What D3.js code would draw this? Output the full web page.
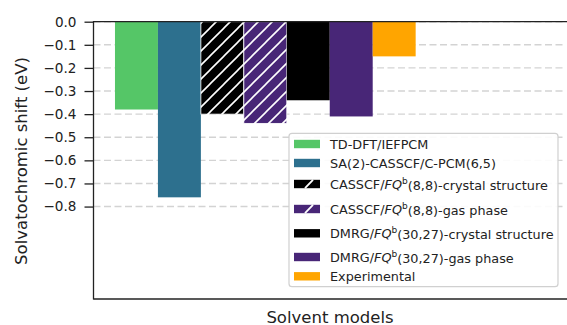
<!DOCTYPE html>
<html>
    <head>
        <meta http-equiv="Content-Type" content="text/html;charset=utf-8">
        <script src="https://d3js.org/d3.v7.min.js"></script>
        <title>Solvatochromic shift</title>
        <style>
            body { margin:0; background:#fff; }
            svg { display:block; font-family:"DejaVu Sans", sans-serif; }
        </style>
    </head>
    <body>
        <svg width="567" height="325"></svg>
    </body>
    <script>
        // data
        var methods = [
            {pre:"TD-DFT/IEFPCM", fq:false, post:""},
            {pre:"SA(2)-CASSCF/C-PCM(6,5)", fq:false, post:""},
            {pre:"CASSCF/", fq:true, post:"(8,8)-crystal structure"},
            {pre:"CASSCF/", fq:true, post:"(8,8)-gas phase"},
            {pre:"DMRG/", fq:true, post:"(30,27)-crystal structure"},
            {pre:"DMRG/", fq:true, post:"(30,27)-gas phase"},
            {pre:"Experimental", fq:false, post:""}
        ];
        var shifts = [-0.38, -0.76, -0.40, -0.44, -0.34, -0.41, -0.15];
        var colors = ["#55c667", "#2d708e", "#000000", "#482677", "#000000", "#482677", "#ffa500"];
        var hatched = [false, false, true, true, false, false, false];
        var yTicks = [0.0, -0.1, -0.2, -0.3, -0.4, -0.5, -0.6, -0.7, -0.8];

        var svg = d3.select("svg");
        var pLeft = 93.5, pRight = 566, pTop = 21.7, pBottom = 299;

        var x = d3.scaleLinear().domain([-1, 10]).range([pLeft, pRight]);
        var y = d3.scaleLinear().domain([-1.2, 0]).range([pBottom, pTop]);

        // hatch patterns
        var defs = svg.append("defs");
        function hatch(id, bg){
            var p = defs.append("pattern")
                .attr("id", id)
                .attr("patternUnits", "userSpaceOnUse")
                .attr("width", 14).attr("height", 14);
            p.append("rect").attr("width", 14).attr("height", 14).attr("fill", bg);
            p.append("path")
                .attr("d", "M0,14L14,0M-4,4L4,-4M10,18L18,10")
                .attr("stroke", "#fff").attr("stroke-width", 1.6);
        }
        colors.forEach(function(c, i){ if (hatched[i]) hatch("hatch" + i, c); });

        function fill(i){ return hatched[i] ? "url(#hatch" + i + ")" : colors[i]; }

        // grid
        svg.append("g").selectAll("line")
            .data(yTicks)
            .enter().append("line")
                .attr("x1", pLeft).attr("x2", pRight)
                .attr("y1", function(d){ return y(d); })
                .attr("y2", function(d){ return y(d); })
                .attr("stroke", "#d3d3d3")
                .attr("stroke-width", 1.4)
                .attr("stroke-dasharray", "7,3.5");

        // bars
        svg.append("g").selectAll("rect")
            .data(shifts)
            .enter().append("rect")
                .attr("x", function(d, i){ return x(i - 0.5); })
                .attr("width", function(d, i){ return x(i + 0.5) - x(i - 0.5); })
                .attr("y", y(0))
                .attr("height", function(d){ return y(d) - y(0); })
                .attr("fill", function(d, i){ return fill(i); })
                .attr("stroke", function(d, i){ return hatched[i] ? "#fff" : "none"; })
                .attr("stroke-width", 0.8);

        // spines
        svg.append("line").attr("x1", pLeft).attr("x2", 567).attr("y1", pTop).attr("y2", pTop)
            .attr("stroke", "#222").attr("stroke-width", 1.3);
        svg.append("line").attr("x1", pLeft).attr("x2", 567).attr("y1", pBottom).attr("y2", pBottom)
            .attr("stroke", "#222").attr("stroke-width", 1.3);

        // y axis
        var yAxis = d3.axisLeft(y)
            .tickValues(yTicks)
            .tickSize(9)
            .tickPadding(8)
            .tickFormat(function(d){ return d3.format(".1f")(d).replace("-", "\u2212"); });
        var ga = svg.append("g")
            .attr("transform", "translate(" + pLeft + ",0)")
            .call(yAxis);
        ga.select(".domain").attr("stroke", "#222").attr("stroke-width", 1.3)
            .attr("d", "M0," + (pTop - 0.6) + "V" + (pBottom + 0.6));
        ga.selectAll(".tick line").attr("stroke", "#222").attr("stroke-width", 1.3);
        ga.selectAll(".tick text")
            .attr("font-family", "DejaVu Sans")
            .attr("font-size", 13.6)
            .attr("fill", "#222");

        // axis labels
        svg.append("text")
            .attr("transform", "translate(21.7,161) rotate(-90)")
            .attr("text-anchor", "middle")
            .attr("dominant-baseline", "central")
            .attr("font-size", 16.5)
            .attr("fill", "#222")
            .text("Solvatochromic shift (eV)");
        svg.append("text")
            .attr("x", 330).attr("y", 317)
            .attr("text-anchor", "middle")
            .attr("dominant-baseline", "central")
            .attr("font-size", 16.5)
            .attr("fill", "#222")
            .text("Solvent models");

        // legend
        var rowY = [144, 163, 184, 209, 233.3, 257, 276.3];
        var lg = svg.append("g");
        lg.append("rect")
            .attr("x", 289).attr("y", 133.3)
            .attr("width", 269).attr("height", 153.4)
            .attr("rx", 3)
            .attr("fill", "#fff").attr("fill-opacity", 0.9)
            .attr("stroke", "#d0d0d0").attr("stroke-width", 1.2);

        var rows = lg.selectAll("g.row")
            .data(methods)
            .enter().append("g")
                .attr("class", "row")
                .attr("transform", function(d, i){ return "translate(0," + rowY[i] + ")"; });

        rows.append("rect")
            .attr("x", 294).attr("y", -4.2)
            .attr("width", 26).attr("height", 8.4)
            .attr("fill", function(d, i){ return colors[i]; });
        rows.filter(function(d, i){ return hatched[i]; })
            .append("path")
                .attr("d", "M305,4.2L313,-4.2")
                .attr("stroke", "#fff").attr("stroke-width", 1.8);

        var txt = rows.append("text")
            .attr("x", 330)
            .attr("dy", "0.36em")
            .attr("font-size", 12.8)
            .attr("fill", "#222");
        txt.append("tspan").text(function(d){ return d.pre; });
        txt.filter(function(d){ return d.fq; })
            .append("tspan").attr("font-style", "italic").text("FQ");
        txt.filter(function(d){ return d.fq; })
            .append("tspan").attr("font-size", 9).attr("dy", "-0.55em").text("b");
        txt.filter(function(d){ return d.fq; })
            .append("tspan").attr("dy", "0.48em").text(function(d){ return d.post; });
    </script>
</html>
